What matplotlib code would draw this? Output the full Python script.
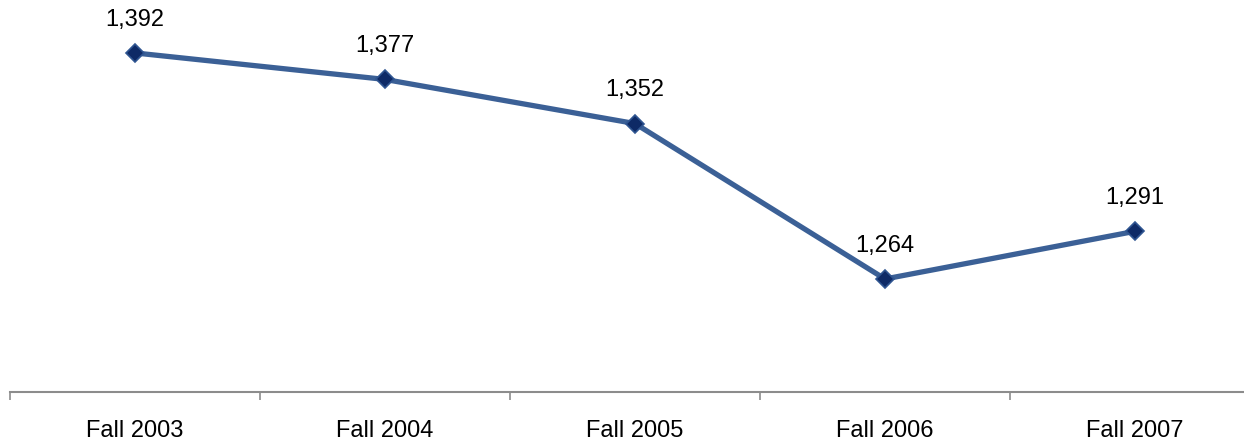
import matplotlib
import matplotlib.pyplot as plt
import numpy as np

matplotlib.use("Agg")

categories = ["Fall 2003", "Fall 2004", "Fall 2005", "Fall 2006", "Fall 2007"]
values = [1392, 1377, 1352, 1264, 1291]

plt.rcParams["font.family"] = ["Liberation Sans", "DejaVu Sans"]

fig = plt.figure(figsize=(12.44, 4.42), dpi=100)
# axes spans x=10..1260 px (right end runs past the image), y=3.5..392 px
ax = fig.add_axes([10 / 1244, (442 - 392) / 442, 1250 / 1244, 388.5 / 442])

x = np.arange(len(categories))
ax.plot(x, values, color="#3B6096", linewidth=3.8, zorder=2)
ax.plot(x, values, linestyle="none", marker="D", markersize=9.5,
        markerfacecolor="#0E2A66", markeredgecolor="#2F5591",
        markeredgewidth=1.2, zorder=3)

for xi, v in zip(x, values):
    ax.annotate(f"{v:,}", (xi, v), xytext=(0, 16), textcoords="offset points",
                ha="center", va="bottom", fontsize=17, color="black")

ax.set_xlim(-0.5, len(categories) - 0.5)
ax.set_ylim(1200, 1420)

for side in ["top", "right", "left"]:
    ax.spines[side].set_visible(False)
ax.spines["bottom"].set_color("#8C8C8C")
ax.spines["bottom"].set_linewidth(1.5)

ax.set_yticks([])
ax.set_xticks(x)
ax.set_xticklabels(categories, fontsize=17)
ax.tick_params(axis="x", which="major", length=0, pad=20)
ax.set_xticks(np.arange(-0.5, len(categories)), minor=True)
ax.tick_params(axis="x", which="minor", length=6, width=1.2, color="#8C8C8C",
               direction="out")

fig.savefig("out.png", dpi=100)
